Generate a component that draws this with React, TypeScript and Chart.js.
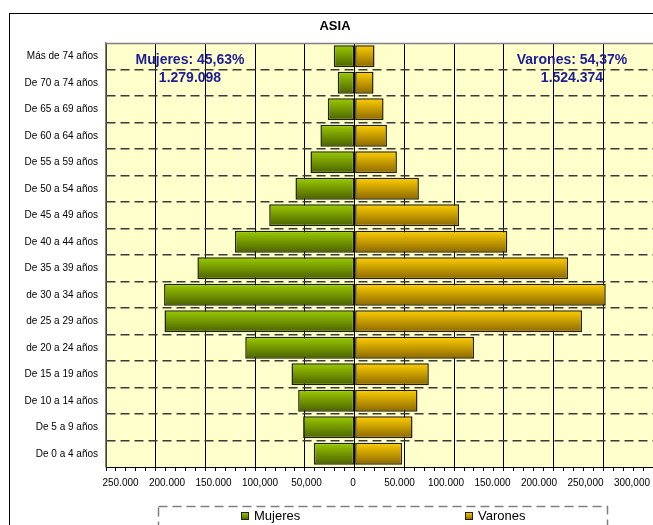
import React, { useEffect, useRef } from "react";
import { Chart, registerables } from "chart.js";

Chart.register(...registerables);

// ---------- data ----------
const chartTitle = "ASIA";
const seriesNames = ["Mujeres", "Varones"];
const ageGroups = [
  "Más de 74 años",
  "De 70 a 74 años",
  "De 65 a 69 años",
  "De 60 a 64 años",
  "De 55 a 59 años",
  "De 50 a 54 años",
  "De 45 a 49 años",
  "De 40 a 44 años",
  "De 35 a 39 años",
  "de 30 a 34 años",
  "de 25 a 29 años",
  "de 20 a 24 años",
  "De 15 a 19 años",
  "De 10 a 14 años",
  "De 5 a 9 años",
  "De 0 a 4 años",
];
const mujeres = [
  21000, 17000, 27000, 34400, 44400, 59500, 85900, 120400, 158100, 191600,
  191200, 110000, 63500, 56800, 51800, 41100,
];
const varones = [
  20000, 19000, 29100, 32500, 42500, 64600, 105000, 153500, 214700, 252500,
  228700, 120100, 74600, 63200, 58200, 47800,
];
const xTickValues = [
  -250000, -200000, -150000, -100000, -50000, 0, 50000, 100000, 150000, 200000,
  250000, 300000,
];
const xTickLabels = [
  "250.000", "200.000", "150.000", "100,000", "50,000", "0", "50.000",
  "100.000", "150.000", "200.000", "250,000", "300,000",
];
const mujeresNote = ["Mujeres: 45,63%", "1.279.098"];
const varonesNote = ["Varones: 54,37%", "1.524.374"];

// ---------- style ----------
const FONT = "'Liberation Sans', Arial, Helvetica, sans-serif";
const BAR_FRACTION = 0.83;
const GREEN = { top: "#9ccc00", bottom: "#4a6000", border: "#1d2400" };
const GOLD = { top: "#ffd000", bottom: "#8a6600", border: "#2a1f00" };

const barGradient = (top: string, bottom: string) => (c: any) => {
  const chart = c.chart;
  const ys = chart.scales && chart.scales.y;
  if (c.type !== "data" || !ys || !chart.chartArea) return bottom;
  const center = ys.getPixelForValue(c.dataIndex);
  const h = ((ys.bottom - ys.top) / ageGroups.length) * BAR_FRACTION;
  const g = chart.ctx.createLinearGradient(0, center - h / 2, 0, center + h / 2);
  g.addColorStop(0, top);
  g.addColorStop(1, bottom);
  return g;
};

const decorations = {
  id: "decorations",
  beforeDraw(chart: any) {
    const { ctx, chartArea: a } = chart;
    ctx.save();
    ctx.strokeStyle = "#000";
    ctx.lineWidth = 1;
    ctx.strokeRect(9.5, 13.5, 700, 600);
    ctx.fillStyle = "#FFFFCC";
    ctx.fillRect(a.left, a.top, a.right - a.left, a.bottom - a.top);
    ctx.restore();
  },
  beforeDatasetsDraw(chart: any) {
    const { ctx, chartArea: a } = chart;
    ctx.save();
    ctx.strokeStyle = "#808080";
    ctx.lineWidth = 1.5;
    ctx.beginPath();
    ctx.moveTo(a.left, a.top + 0.5);
    ctx.lineTo(a.right, a.top + 0.5);
    ctx.stroke();
    ctx.restore();
  },
  afterDraw(chart: any) {
    const { ctx } = chart;
    ctx.save();
    ctx.fillStyle = "#000";
    ctx.font = `bold 13px ${FONT}`;
    ctx.textAlign = "center";
    ctx.textBaseline = "middle";
    ctx.fillText(chartTitle, 335, 26);
    ctx.fillStyle = "#1c1c94";
    ctx.font = `bold 14px ${FONT}`;
    ctx.fillText(mujeresNote[0], 190, 60);
    ctx.fillText(mujeresNote[1], 190, 78);
    ctx.fillText(varonesNote[0], 572, 60);
    ctx.fillText(varonesNote[1], 572, 78);
    const lx = 158, ly = 506, lw = 449;
    ctx.strokeStyle = "#808080";
    ctx.lineWidth = 1.5;
    ctx.setLineDash([9, 5]);
    ctx.strokeRect(lx + 0.5, ly + 0.5, lw, 60);
    ctx.setLineDash([]);
    ctx.font = `13px ${FONT}`;
    ctx.textAlign = "left";
    const colors = [GREEN, GOLD];
    chart.data.datasets.forEach((ds: any, i: number) => {
      const n = chart.data.datasets.length;
      const cx = lx + (lw * (i + 0.5)) / n;
      const tw = ctx.measureText(ds.label).width;
      const itemW = 8 + 5 + tw;
      const sx = Math.round(cx - itemW / 2);
      const sy = 512;
      const g = ctx.createLinearGradient(0, sy, 0, sy + 8);
      g.addColorStop(0, colors[i].top);
      g.addColorStop(1, colors[i].bottom);
      ctx.fillStyle = g;
      ctx.fillRect(sx, sy, 8, 8);
      ctx.strokeStyle = colors[i].border;
      ctx.lineWidth = 1;
      ctx.strokeRect(sx + 0.5, sy + 0.5, 7, 7);
      ctx.fillStyle = "#000";
      ctx.textBaseline = "middle";
      ctx.fillText(ds.label, sx + 13, 516);
    });
    ctx.restore();
  },
};

export default function App() {
  const ref = useRef<HTMLCanvasElement>(null);

  useEffect(() => {
    if (!ref.current) return;
    const chart = new Chart(ref.current, {
      type: "bar",
      data: {
        labels: ageGroups,
        datasets: [
          {
            label: seriesNames[0],
            data: mujeres.map((v) => -v),
            backgroundColor: barGradient(GREEN.top, GREEN.bottom) as any,
            borderColor: GREEN.border,
            borderWidth: 1.5,
            borderSkipped: false,
          },
          {
            label: seriesNames[1],
            data: varones,
            backgroundColor: barGradient(GOLD.top, GOLD.bottom) as any,
            borderColor: GOLD.border,
            borderWidth: 1.5,
            borderSkipped: false,
          },
        ],
      },
      options: {
        indexAxis: "y",
        responsive: false,
        animation: false,
        devicePixelRatio: 1,
        layout: { padding: { top: 43, left: 0, right: 0, bottom: 34 } },
        datasets: { bar: { barPercentage: BAR_FRACTION, categoryPercentage: 1 } },
        plugins: {
          legend: { display: false },
          title: { display: false },
          tooltip: { enabled: false },
        },
        scales: {
          x: {
            type: "linear",
            stacked: true,
            min: -250000,
            max: 300000,
            weight: 0,
            ticks: { display: false, stepSize: 10000 },
            grid: {
              color: (c: any) =>
                c.tick && c.tick.value % 50000 === 0 ? "#000" : "transparent",
              lineWidth: 1,
              tickColor: "#000",
              tickLength: 4,
              drawTicks: true,
            },
            border: { color: "#000", width: 1 },
            afterFit: (s: any) => {
              s.height = 4;
              s.paddingLeft = 0;
              s.paddingRight = 0;
            },
          },
          xLabels: {
            type: "linear",
            axis: "x",
            position: "bottom",
            weight: 1,
            min: -265600,
            max: 322600,
            afterBuildTicks: (s: any) => {
              s.ticks = xTickValues.map((v) => ({ value: v }));
            },
            ticks: {
              autoSkip: false,
              maxRotation: 0,
              minRotation: 0,
              padding: 6,
              color: "#000",
              font: { family: FONT, size: 10 },
              callback: (v: any) => {
                const i = xTickValues.indexOf(Math.round(Number(v)));
                return i >= 0 ? xTickLabels[i] : "";
              },
            },
            grid: { display: false, drawTicks: false },
            border: { display: false },
            afterFit: (s: any) => {
              s.height = 20;
              s.paddingLeft = 0;
              s.paddingRight = 0;
            },
          },
          y: {
            type: "category",
            stacked: true,
            ticks: {
              color: "#000",
              font: { family: FONT, size: 10 },
              padding: 8,
              autoSkip: false,
            },
            grid: {
              offset: true,
              drawTicks: false,
              lineWidth: 1.5,
              color: (c: any) =>
                c.index === undefined || c.index === 0 ? "transparent" : "#3a3a3a",
            },
            border: { color: "#808080", width: 1.5, dash: [9, 5] },
            afterFit: (s: any) => {
              s.width = 106;
            },
          },
        } as any,
      },
      plugins: [decorations],
    });
    return () => chart.destroy();
  }, []);

  return (
    <div
      style={{
        position: "fixed",
        left: 0,
        top: 0,
        width: 653,
        height: 525,
        overflow: "hidden",
        background: "#fff",
      }}
    >
      <canvas
        ref={ref}
        width={653}
        height={525}
        style={{ display: "block", width: 653, height: 525 }}
      />
    </div>
  );
}
